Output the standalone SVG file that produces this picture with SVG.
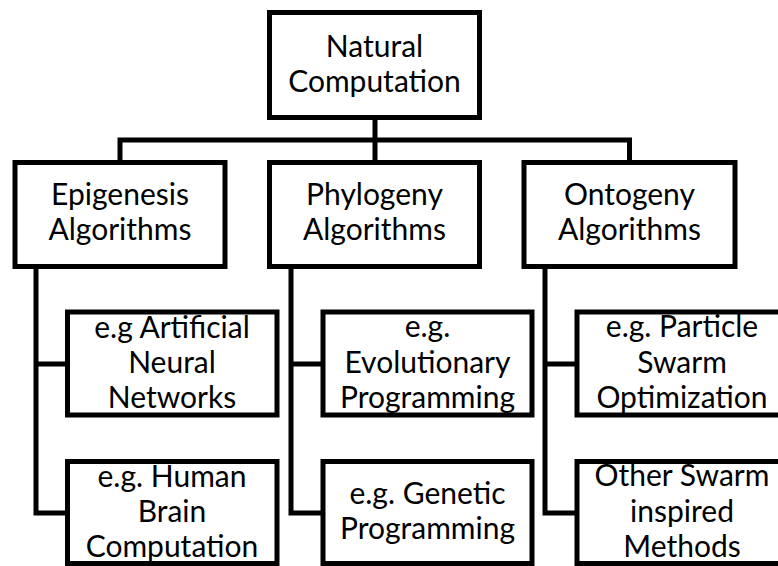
<svg xmlns="http://www.w3.org/2000/svg" width="778" height="566" viewBox="0 0 778 566">
<style>
.box{fill:#fff;stroke:#000;stroke-width:5}
.con{fill:none;stroke:#000;stroke-width:5;stroke-linejoin:miter;stroke-linecap:square}
text{font-family:Lato,"Open Sans",sans-serif;font-size:30px;fill:#000;text-anchor:middle}
</style>
<rect width="778" height="566" fill="#fff"/>
<g id="connectors">
<path class="con" d="M375,117.5 V162.5"/>
<path class="con" d="M120,162.5 V140 H629.5 V162.5"/>
<path class="con" d="M36,266.5 V513 H67.5 M36,364 H67.5"/>
<path class="con" d="M291,266.5 V513 H323 M291,364 H323"/>
<path class="con" d="M545,266.5 V513 H577 M545,364 H577"/>
</g>
<g id="root"><rect class="box" x="269.5" y="12.5" width="210" height="105"/><text x="374.5" y="57">Natural</text><text x="374.5" y="92">Computation</text></g>
<g id="epigenesis"><rect class="box" x="15" y="162.5" width="210" height="104"/><text x="120" y="205">Epigenesis</text><text x="120" y="240">Algorithms</text></g>
<g id="phylogeny"><rect class="box" x="269.5" y="162.5" width="210" height="104"/><text x="374.5" y="205">Phylogeny</text><text x="374.5" y="240">Algorithms</text></g>
<g id="ontogeny"><rect class="box" x="524" y="162.5" width="211" height="104"/><text x="629.5" y="205">Ontogeny</text><text x="629.5" y="240">Algorithms</text></g>
<g id="ann"><rect class="box" x="67.5" y="312" width="209.5" height="103"/><text x="172" y="338">e.g Artificial</text><text x="172" y="373">Neural</text><text x="172" y="408">Networks</text></g>
<g id="brain"><rect class="box" x="67.5" y="461.5" width="209.5" height="102"/><text x="172" y="487">e.g. Human</text><text x="172" y="522">Brain</text><text x="172" y="557">Computation</text></g>
<g id="ep"><rect class="box" x="323" y="312" width="209" height="103"/><text x="427.5" y="337">e.g.</text><text x="427.5" y="373">Evolutionary</text><text x="427.5" y="408">Programming</text></g>
<g id="gp"><rect class="box" x="323" y="461.5" width="209" height="102"/><text x="427.5" y="504">e.g. Genetic</text><text x="427.5" y="539">Programming</text></g>
<g id="pso"><rect class="box" x="577" y="312" width="210" height="103"/><text x="682" y="337">e.g. Particle</text><text x="682" y="373">Swarm</text><text x="682" y="408">Optimization</text></g>
<g id="swarm"><rect class="box" x="577" y="461.5" width="210" height="102"/><text x="682" y="486">Other Swarm</text><text x="682" y="522">inspired</text><text x="682" y="557">Methods</text></g>
</svg>
